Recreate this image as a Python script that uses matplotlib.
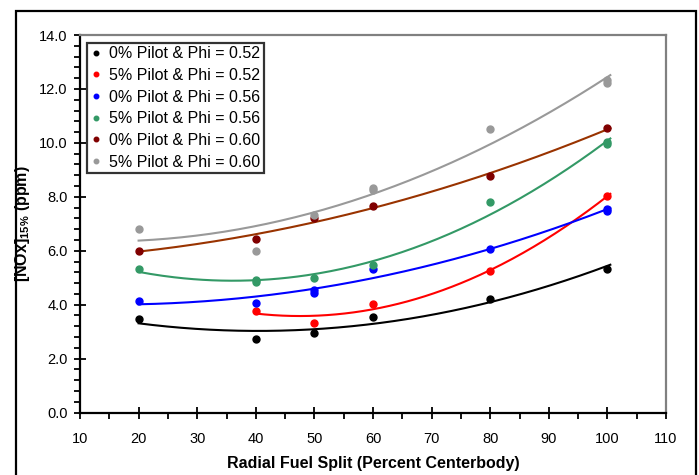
import numpy as np
import matplotlib
matplotlib.use("Agg")
import matplotlib.pyplot as plt
from matplotlib.patches import Rectangle
from matplotlib.ticker import MultipleLocator, FormatStrFormatter

plt.rcParams['font.family'] = ['Liberation Sans', 'DejaVu Sans']
plt.rcParams['mathtext.default'] = 'regular'

# ---- data ----
labels = ["0% Pilot & Phi = 0.52", "5% Pilot & Phi = 0.52",
          "0% Pilot & Phi = 0.56", "5% Pilot & Phi = 0.56",
          "0% Pilot & Phi = 0.60", "5% Pilot & Phi = 0.60"]

x_p0_052 = [20, 40, 50, 60, 80, 100]
y_p0_052 = [3.46, 2.72, 2.95, 3.55, 4.22, 5.34]

x_p5_052 = [40, 50, 60, 80, 100]
y_p5_052 = [3.77, 3.33, 4.01, 5.26, 8.02]

x_p0_056 = [20, 40, 50, 50, 60, 80, 100, 100]
y_p0_056 = [4.13, 4.07, 4.45, 4.55, 5.32, 6.08, 7.48, 7.56]

x_p5_056 = [20, 40, 40, 50, 60, 80, 100, 100]
y_p5_056 = [5.32, 4.85, 4.90, 4.98, 5.47, 7.79, 9.95, 10.02]

x_p0_060 = [20, 40, 50, 60, 80, 100]
y_p0_060 = [5.99, 6.44, 7.23, 7.64, 8.76, 10.54]

x_p5_060 = [20, 40, 50, 60, 60, 80, 100, 100]
y_p5_060 = [6.81, 5.99, 7.33, 8.25, 8.31, 10.53, 12.22, 12.32]

xs = [x_p0_052, x_p5_052, x_p0_056, x_p5_056, x_p0_060, x_p5_060]
ys = [y_p0_052, y_p5_052, y_p0_056, y_p5_056, y_p0_060, y_p5_060]
marker_colors = ["#000000", "#ff0000", "#0000ff", "#339966", "#800000", "#999999"]
line_colors = ["#000000", "#ff0000", "#0000ff", "#339966", "#993300", "#999999"]

x_ticks = [10, 20, 30, 40, 50, 60, 70, 80, 90, 100, 110]
y_ticks = [0.0, 2.0, 4.0, 6.0, 8.0, 10.0, 12.0, 14.0]

fig = plt.figure(figsize=(6.99, 4.75), dpi=100)
ax = fig.add_axes([80/699, 1-412.5/475, (666-80)/699, (412.5-35)/475])

# outer frame
fig.patches.append(Rectangle((16/699, -0.05), (696-16)/699, (1-11/475)+0.05,
                             transform=fig.transFigure, fill=False,
                             edgecolor='black', linewidth=1.6, clip_on=False))

handles = []
for x, y, mc, lc, lab in zip(xs, ys, marker_colors, line_colors, labels):
    x = np.array(x, float); y = np.array(y, float)
    coef = np.polyfit(x, y, 2)
    xf = np.linspace(x.min(), x.max() + 0.5, 200)
    ax.plot(xf, np.polyval(coef, xf), color=lc, lw=1.5, zorder=2)
    h, = ax.plot(x, y, 'o', color=mc, ms=5, mec=mc, zorder=3, label=lab)
    handles.append(h)

ax.set_xlim(10, 110)
ax.set_ylim(0, 14)
ax.set_xticks(x_ticks)
ax.set_yticks(y_ticks)
ax.yaxis.set_major_formatter(FormatStrFormatter('%.1f'))
ax.xaxis.set_minor_locator(MultipleLocator(5))
ax.yaxis.set_minor_locator(MultipleLocator(0.4))

for s in ['left', 'bottom']:
    ax.spines[s].set_color('black'); ax.spines[s].set_linewidth(1.6)
for s in ['top', 'right']:
    ax.spines[s].set_color('#808080'); ax.spines[s].set_linewidth(1.6)

ax.tick_params(axis='both', which='major', direction='inout', length=8, width=1.3,
               labelsize=10.5, colors='black')
ax.tick_params(axis='both', which='minor', direction='out', length=4, width=1.3)
ax.tick_params(axis='x', which='major', pad=10)
ax.tick_params(axis='y', which='major', pad=5)

ax.set_xlabel("Radial Fuel Split (Percent Centerbody)", fontsize=11.5, fontweight='bold', labelpad=7)
ax.set_ylabel(r"[NOx]$_{15\%}$ (ppm)", fontsize=11.5, fontweight='bold')
ax.yaxis.set_label_coords(-0.082, 0.5)

leg = ax.legend(handles=handles, loc='upper left', bbox_to_anchor=(0.012, 0.979),
                borderaxespad=0, fontsize=11.5, frameon=True, fancybox=False,
                handlelength=0.7, handletextpad=0.5, labelspacing=0.42,
                borderpad=0.2, markerscale=0.65)
leg.get_frame().set_edgecolor('black')
leg.get_frame().set_linewidth(1.6)

fig.savefig("out.png", dpi=100)
